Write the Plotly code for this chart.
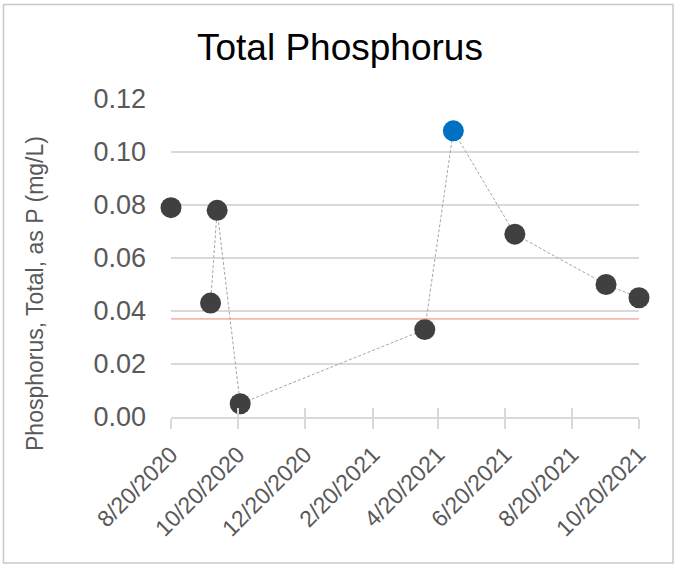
import plotly.graph_objects as go

# Sample dates and total phosphorus results (mg/L)
sample_dates = ["2020-08-20", "2020-09-25", "2020-10-01", "2020-10-22", "2021-04-08",
                "2021-05-04", "2021-06-29", "2021-09-20", "2021-10-20"]
phosphorus = [0.079, 0.043, 0.078, 0.005, 0.033, 0.108, 0.069, 0.050, 0.045]

# Reference level drawn as a horizontal rule
threshold = 0.037

# Axis ticks
x_ticks = ["2020-08-20", "2020-10-20", "2020-12-20", "2021-02-20", "2021-04-20",
           "2021-06-20", "2021-08-20", "2021-10-20"]
y_ticks = [0.00, 0.02, 0.04, 0.06, 0.08, 0.10, 0.12]

W, H = 676, 567
L, R, T, B = 171, 37, 99, 150
PW, PH = W - L - R, H - T - B


def px_x(p):
    return (p - L) / PW


def px_y(p):
    return (H - B - p) / PH


peak = max(phosphorus)
gray_x = [d for d, v in zip(sample_dates, phosphorus) if v != peak]
gray_y = [v for v in phosphorus if v != peak]
peak_x = [d for d, v in zip(sample_dates, phosphorus) if v == peak]
peak_y = [v for v in phosphorus if v == peak]

fig = go.Figure()

# dashed connector between consecutive samples (first sample stands alone)
fig.add_trace(go.Scatter(
    x=sample_dates[1:], y=phosphorus[1:], mode="lines",
    line=dict(color="#A6A6A6", width=1, dash="3px,2px"),
    hoverinfo="skip", showlegend=False, cliponaxis=False,
))
fig.add_trace(go.Scatter(
    x=gray_x, y=gray_y, mode="markers",
    marker=dict(color="#404040", size=21),
    showlegend=False, cliponaxis=False,
))
fig.add_trace(go.Scatter(
    x=peak_x, y=peak_y, mode="markers",
    marker=dict(color="#0070C0", size=21),
    showlegend=False, cliponaxis=False,
))
# invisible trace to host the inner half of the crossing tick marks
fig.add_trace(go.Scatter(x=[x_ticks[0]], y=[0], xaxis="x2", mode="markers",
                         marker=dict(opacity=0), showlegend=False, hoverinfo="skip"))

x_range = [x_ticks[0], x_ticks[-1]]

fig.update_layout(
    width=W, height=H,
    margin=dict(l=L, r=R, t=T, b=B),
    paper_bgcolor="white", plot_bgcolor="white",
    font=dict(family="Liberation Sans, Arial, sans-serif", color="#595959"),
    xaxis=dict(
        type="date", range=x_range,
        tickvals=x_ticks, tickformat="%-m/%-d/%Y", tickangle=-45,
        tickfont=dict(size=23, color="#595959"),
        showgrid=False, zeroline=False,
        showline=True, linecolor="#D9D9D9", linewidth=2,
        ticks="outside", ticklen=10, tickwidth=2, tickcolor="#D9D9D9",
        ticklabelstandoff=3,
    ),
    xaxis2=dict(
        type="date", range=x_range, overlaying="x", matches=None,
        tickvals=x_ticks, showticklabels=False, showgrid=False, zeroline=False,
        ticks="inside", ticklen=9, tickwidth=2, tickcolor="#D9D9D9",
        showline=False,
    ),
    yaxis=dict(
        range=[0, 0.12], tickvals=y_ticks, tickformat=".2f",
        tickfont=dict(size=27, color="#595959"),
        showgrid=True, gridcolor="#D9D9D9", gridwidth=2,
        zeroline=False, showline=False, ticklabelstandoff=24,
    ),
    shapes=[
        dict(type="line", xref="paper", yref="y", x0=0, x1=1,
             y0=threshold, y1=threshold, line=dict(color="#F08070", width=1)),
        dict(type="rect", xref="paper", yref="paper",
             x0=px_x(3.5), x1=px_x(673), y0=px_y(563), y1=px_y(4.5),
             line=dict(color="#C9C9C9", width=1.5), layer="below"),
    ],
    annotations=[
        dict(text="Total Phosphorus", xref="paper", yref="paper",
             x=px_x(340), y=px_y(47), xanchor="center", yanchor="middle",
             showarrow=False, font=dict(size=37, color="#000000")),
        dict(text="Phosphorus, Total, as P (mg/L)", xref="paper", yref="paper",
             x=px_x(35), y=px_y(294), xanchor="center", yanchor="middle",
             textangle=-90, showarrow=False, font=dict(size=23, color="#595959")),
    ],
)

fig.write_html("out.html")
